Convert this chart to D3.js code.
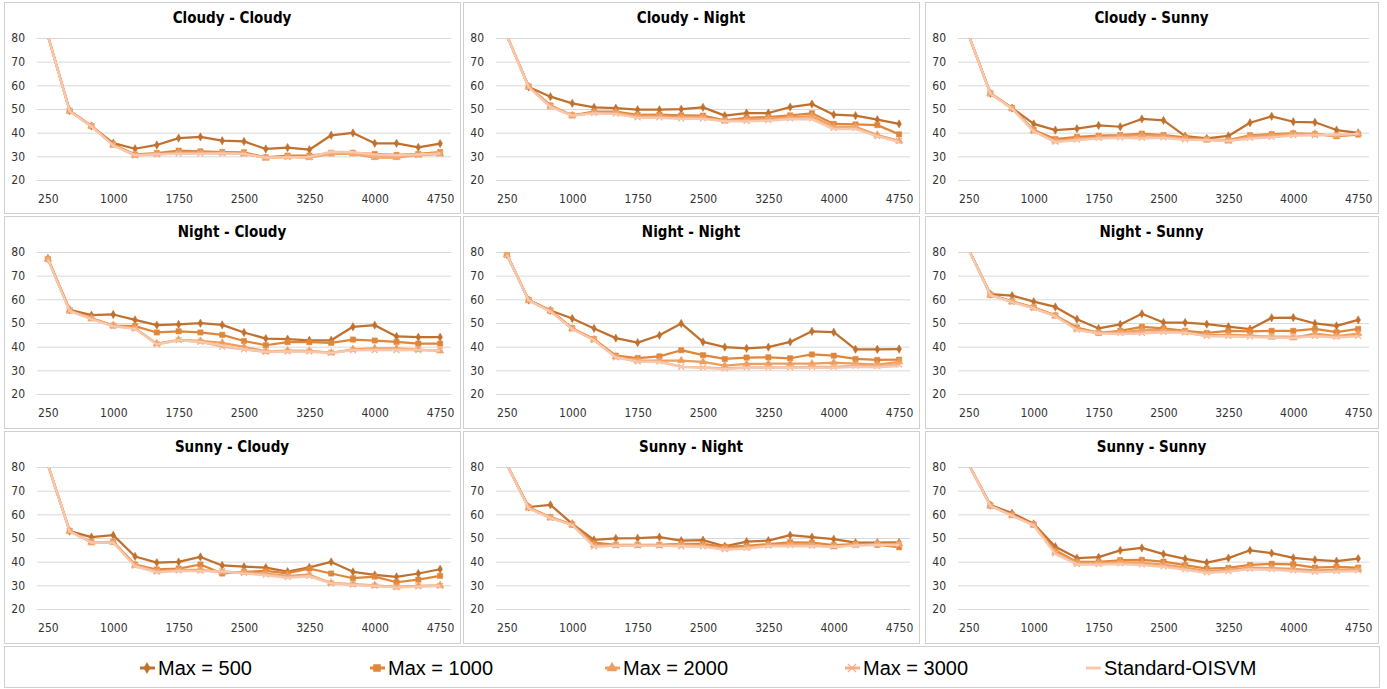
<!DOCTYPE html>
<html>
<head>
<meta charset="utf-8">
<script src="https://cdn.jsdelivr.net/npm/d3@7"></script>
<style>
  body { margin: 0; background: #fff; }
  svg { display: block; }
  .tick text { font-family: "DejaVu Sans Condensed", "DejaVu Sans", sans-serif; font-size: 12px; fill: #333; }
</style>
</head>
<body>
<div id="chart"></div>
<script>
// x categories (max size) and y ticks
const xValues = [250, 500, 750, 1000, 1250, 1500, 1750, 2000, 2250, 2500, 2750, 3000, 3250, 3500, 3750, 4000, 4250, 4500, 4750];
const xTickLabels = [250, 1000, 1750, 2500, 3250, 4000, 4750];
const yTicks = [20, 30, 40, 50, 60, 70, 80];
const seriesNames = ["Max = 500", "Max = 1000", "Max = 2000", "Max = 3000", "Standard-OISVM"];
const panelTitles = ["Cloudy - Cloudy", "Cloudy - Night", "Cloudy - Sunny",
                     "Night - Cloudy", "Night - Night", "Night - Sunny",
                     "Sunny - Cloudy", "Sunny - Night", "Sunny - Sunny"];

// values per panel, one row per series (same order as seriesNames)
const cloudyCloudy = [
  [81, 49.3, 42.8, 35.6, 33.2, 34.8, 37.7, 38.2, 36.6, 36.3, 33.1, 33.7, 32.8, 38.9, 39.9, 35.5, 35.5, 33.8, 35.4],
  [81, 49.2, 42.8, 35.0, 30.8, 31.4, 32.4, 32.1, 31.8, 31.7, 29.6, 30.3, 30.3, 31.4, 31.5, 31.0, 30.6, 31.0, 31.8],
  [81, 49.2, 42.8, 34.8, 30.5, 31.0, 31.6, 31.6, 31.5, 31.1, 29.3, 29.8, 29.5, 31.0, 31.0, 29.5, 29.5, 30.5, 31.0],
  [81, 49.1, 42.7, 34.7, 30.3, 30.8, 31.2, 31.2, 31.3, 31.0, 29.4, 29.7, 29.7, 31.5, 31.3, 30.0, 30.0, 30.5, 31.0],
  [81, 49.0, 42.6, 34.5, 30.5, 30.8, 31.0, 31.0, 31.2, 31.0, 29.5, 29.6, 29.8, 32.0, 31.8, 30.8, 30.5, 30.8, 31.3]
];
const cloudyNight = [
  [81, 59.3, 55.2, 52.4, 50.7, 50.4, 49.7, 49.7, 49.9, 50.7, 47.2, 48.3, 48.3, 50.8, 52.1, 47.6, 47.2, 45.5, 43.7],
  [81, 59.5, 51.5, 47.3, 48.9, 48.9, 47.5, 47.6, 47.3, 47.2, 45.2, 46.3, 46.6, 47.3, 48.2, 43.7, 43.5, 43.2, 39.3],
  [81, 59.4, 51.2, 47.3, 48.5, 48.5, 47.0, 47.0, 46.5, 46.5, 45.0, 45.5, 46.0, 46.5, 47.0, 42.5, 42.5, 39.0, 36.5],
  [81, 59.3, 51.0, 47.2, 48.3, 48.0, 46.5, 46.5, 46.0, 46.0, 45.0, 45.0, 45.3, 46.0, 46.0, 42.0, 42.0, 38.5, 36.5],
  [81, 59.2, 50.8, 47.2, 48.2, 47.8, 46.3, 46.3, 45.8, 45.8, 44.8, 44.8, 45.0, 45.7, 45.6, 41.5, 41.5, 38.5, 36.0]
];
const cloudySunny = [
  [81, 56.6, 50.4, 43.7, 41.1, 41.7, 43.1, 42.5, 45.8, 45.2, 38.5, 37.6, 38.6, 44.2, 46.9, 44.6, 44.4, 41.1, 39.9],
  [81, 56.6, 50.4, 41.1, 37.3, 38.2, 38.7, 39.0, 39.6, 39.0, 38.0, 37.2, 36.9, 38.9, 39.4, 39.7, 39.4, 38.5, 39.2],
  [81, 56.5, 50.3, 40.8, 36.5, 37.5, 38.0, 38.5, 39.0, 38.5, 37.5, 37.0, 36.5, 38.5, 39.0, 39.5, 39.5, 38.5, 39.5],
  [81, 56.5, 50.2, 40.6, 36.2, 37.0, 37.8, 38.0, 37.8, 38.0, 37.2, 37.0, 36.5, 37.8, 38.2, 39.0, 39.0, 39.0, 39.5],
  [81, 56.4, 50.1, 40.5, 36.0, 36.8, 37.5, 37.8, 37.5, 37.8, 37.0, 36.8, 36.5, 37.5, 38.0, 38.8, 39.0, 39.2, 39.5]
];
const nightCloudy = [
  [77.3, 55.6, 53.3, 53.6, 51.3, 49.1, 49.4, 49.9, 49.2, 46.0, 43.4, 43.2, 42.7, 42.7, 48.4, 49.1, 44.3, 44.0, 44.0],
  [77.0, 55.3, 52.0, 48.9, 48.7, 46.0, 46.5, 46.0, 45.0, 42.4, 40.6, 41.9, 41.9, 41.6, 43.0, 42.6, 42.0, 41.3, 41.3],
  [77.0, 55.3, 52.0, 49.0, 47.8, 41.3, 42.9, 42.4, 41.6, 39.9, 38.0, 38.3, 38.2, 37.4, 38.9, 39.3, 39.3, 38.8, 38.2],
  [77.0, 55.2, 51.8, 48.8, 47.6, 41.0, 42.7, 42.0, 40.0, 38.8, 37.8, 38.0, 38.0, 37.5, 38.5, 38.5, 38.5, 38.5, 38.5],
  [76.8, 55.0, 51.6, 48.6, 47.5, 41.0, 42.8, 42.0, 40.5, 39.0, 37.8, 38.0, 37.8, 37.3, 38.5, 38.6, 38.8, 38.6, 38.3]
];
const nightNight = [
  [78.9, 59.7, 55.3, 51.9, 47.7, 43.6, 41.7, 44.8, 49.8, 42.0, 39.8, 39.3, 39.8, 42.0, 46.5, 46.1, 38.9, 38.9, 39.0],
  [79.0, 59.7, 55.3, 47.8, 43.2, 36.2, 35.2, 35.9, 38.5, 36.4, 34.8, 35.4, 35.5, 35.1, 36.7, 36.2, 34.8, 34.4, 34.5],
  [78.9, 59.6, 55.2, 47.6, 43.0, 35.7, 34.1, 34.1, 34.1, 33.6, 32.0, 32.7, 32.8, 32.8, 32.8, 33.3, 32.8, 32.4, 33.6],
  [78.8, 59.6, 55.0, 47.5, 42.8, 35.5, 33.8, 33.8, 31.5, 31.2, 30.8, 31.2, 31.2, 31.2, 31.5, 31.5, 32.0, 31.8, 32.5],
  [78.8, 59.5, 54.8, 47.4, 42.7, 35.5, 33.7, 33.5, 31.5, 31.0, 30.5, 31.0, 31.0, 31.0, 31.0, 31.0, 31.5, 31.3, 31.8]
];
const nightSunny = [
  [81, 62.2, 61.6, 59.0, 56.8, 51.6, 47.7, 49.4, 53.9, 50.2, 50.2, 49.5, 48.5, 47.4, 52.2, 52.3, 49.8, 48.8, 51.3],
  [81, 62.0, 59.2, 56.6, 53.2, 48.1, 45.8, 46.7, 48.4, 47.7, 46.7, 45.8, 46.7, 46.5, 46.7, 46.7, 47.5, 46.1, 47.5],
  [81, 61.8, 59.0, 56.4, 53.0, 47.5, 45.8, 46.0, 47.0, 47.0, 46.2, 45.0, 45.0, 44.8, 44.0, 43.7, 45.5, 44.5, 45.5],
  [81, 61.8, 58.9, 56.3, 52.9, 47.2, 45.8, 45.8, 45.8, 46.2, 46.0, 44.5, 44.5, 44.3, 44.3, 44.2, 44.5, 44.2, 44.5],
  [81, 61.7, 58.8, 56.2, 52.8, 47.0, 45.5, 45.3, 45.5, 46.0, 45.8, 44.5, 44.3, 44.0, 43.8, 43.6, 44.5, 43.8, 44.3]
];
const sunnyCloudy = [
  [81, 52.9, 50.4, 51.2, 42.2, 39.6, 39.9, 42.0, 38.4, 37.9, 37.5, 35.8, 37.6, 39.9, 35.7, 34.4, 33.6, 35.0, 36.8],
  [81, 53.0, 48.2, 48.4, 38.8, 36.7, 37.1, 38.8, 35.0, 35.7, 36.1, 35.1, 37.1, 35.0, 33.0, 33.7, 31.3, 32.4, 34.0],
  [81, 52.9, 48.2, 48.3, 38.5, 36.0, 36.5, 36.5, 35.5, 35.5, 35.0, 34.0, 34.5, 31.0, 30.5, 30.0, 29.3, 29.8, 30.0],
  [81, 52.8, 48.1, 48.2, 38.3, 35.8, 36.3, 36.2, 36.0, 35.2, 34.5, 33.5, 34.0, 30.8, 30.3, 29.8, 29.2, 29.6, 29.8],
  [81, 52.7, 48.0, 48.0, 38.0, 35.5, 36.0, 36.0, 35.8, 35.0, 34.2, 33.2, 33.8, 30.8, 30.2, 29.8, 29.0, 29.5, 29.8]
];
const sunnyNight = [
  [81, 63.1, 64.0, 56.0, 49.2, 49.8, 49.9, 50.4, 48.9, 49.1, 46.5, 48.5, 48.9, 51.2, 50.4, 49.5, 48.0, 48.0, 48.1],
  [81, 63.0, 58.8, 55.7, 48.0, 47.1, 47.1, 47.1, 47.5, 47.5, 46.3, 46.7, 47.4, 48.2, 48.0, 47.0, 47.4, 47.1, 46.1],
  [81, 62.8, 58.6, 55.6, 47.0, 47.0, 47.0, 47.0, 47.3, 46.8, 45.5, 46.0, 47.0, 47.3, 47.0, 46.3, 47.0, 47.5, 47.5],
  [81, 62.6, 58.5, 55.5, 46.5, 46.8, 46.8, 46.8, 46.5, 46.5, 45.3, 45.8, 46.8, 47.0, 46.8, 46.5, 47.0, 47.2, 47.3],
  [81, 62.5, 58.4, 55.4, 46.3, 46.7, 46.8, 46.7, 46.7, 46.3, 45.0, 45.5, 46.5, 46.5, 46.5, 46.3, 46.8, 47.0, 47.0]
];
const sunnySunny = [
  [81, 63.9, 60.5, 56.0, 46.3, 41.5, 41.9, 44.8, 45.8, 43.2, 41.2, 39.6, 41.5, 44.8, 43.6, 41.6, 40.8, 40.2, 41.3],
  [81, 63.8, 59.7, 55.7, 44.8, 39.9, 39.9, 40.6, 40.8, 40.0, 38.5, 37.1, 37.4, 38.6, 39.1, 38.9, 37.5, 37.8, 37.5],
  [81, 63.6, 59.6, 55.5, 44.0, 39.5, 39.5, 39.8, 39.5, 38.8, 37.5, 36.0, 36.5, 37.5, 37.3, 37.0, 36.3, 36.5, 36.8],
  [81, 63.5, 59.5, 55.4, 43.5, 39.0, 39.0, 39.3, 38.8, 38.0, 36.8, 35.5, 36.0, 37.0, 36.8, 36.3, 35.7, 36.0, 36.3],
  [81, 63.5, 59.4, 55.3, 43.2, 38.8, 38.8, 39.0, 38.5, 37.8, 36.5, 35.3, 35.8, 36.8, 36.5, 36.0, 35.5, 35.8, 36.0]
];
const panelData = [cloudyCloudy, cloudyNight, cloudySunny, nightCloudy, nightNight, nightSunny, sunnyCloudy, sunnyNight, sunnySunny];

// look of each series
const colors = ["#C0712F", "#E0863A", "#EE9E5C", "#F4AF86", "#F8C8AE"];
const symbols = [d3.symbolDiamond, d3.symbolSquare, d3.symbolTriangle, d3.symbolX, null];
const symbolSizes = [20, 28, 24, 24, 0];

// layout
const svgWidth = 1387, svgHeight = 689;
const cols = [{ x: 4, w: 456 }, { x: 463, w: 456 }, { x: 925, w: 453 }];
const rows = [{ y: 2, h: 211 }, { y: 216, h: 212 }, { y: 431, h: 212 }];
const plotMargin = { left: 33, right: 9, top: 36, bottom: 33 };

const svg = d3.select("#chart").append("svg")
  .attr("width", svgWidth)
  .attr("height", svgHeight);

panelData.forEach((series, i) => {
  const col = cols[i % 3], row = rows[Math.floor(i / 3)];
  const g = svg.append("g").attr("transform", `translate(${col.x},${row.y})`);

  g.append("rect")
    .attr("x", 0.5).attr("y", 0.5)
    .attr("width", col.w).attr("height", row.h)
    .attr("fill", "#fff")
    .attr("stroke", "#d0d0d0");

  const left = plotMargin.left, right = col.w - plotMargin.right;
  const top = plotMargin.top, bottom = plotMargin.top + 142;

  const x = d3.scalePoint().domain(xValues).range([left, right]).padding(0.5);
  const y = d3.scaleLinear().domain([20, 80]).range([bottom, top]);

  // title
  g.append("text")
    .attr("x", col.w / 2).attr("y", 21)
    .attr("text-anchor", "middle")
    .style("font-family", "'DejaVu Sans Condensed', 'DejaVu Sans', sans-serif")
    .style("font-size", "15px")
    .style("font-weight", "bold")
    .attr("fill", "#000")
    .text(panelTitles[i]);

  // y gridlines + labels
  const yAxis = g.append("g")
    .attr("transform", `translate(${left},0)`)
    .call(d3.axisLeft(y).tickValues(yTicks).tickSize(-(right - left)).tickPadding(12));
  yAxis.select(".domain").remove();
  yAxis.selectAll(".tick line").attr("stroke", "#d9d9d9");

  // x labels
  const xAxis = g.append("g")
    .attr("transform", `translate(0,${bottom})`)
    .call(d3.axisBottom(x).tickValues(xTickLabels).tickSize(0).tickPadding(14));
  xAxis.select(".domain").remove();

  // clip so values above 80 are cut off
  const clipId = "clip" + i;
  g.append("clipPath").attr("id", clipId)
    .append("rect")
    .attr("x", left).attr("y", top)
    .attr("width", right - left).attr("height", bottom - top + 10);

  const line = d3.line()
    .x((d, j) => x(xValues[j]))
    .y(d => y(d));

  const plot = g.append("g").attr("clip-path", `url(#${clipId})`);

  series.forEach((vals, s) => {
    plot.append("path")
      .datum(vals)
      .attr("fill", "none")
      .attr("stroke", colors[s])
      .attr("stroke-width", 2.25)
      .attr("stroke-linejoin", "round")
      .attr("d", line);

    if (symbols[s]) {
      plot.selectAll(null)
        .data(vals.map((v, j) => ({ v, j })).filter(d => d.v <= 80))
        .join("path")
        .attr("transform", d => `translate(${x(xValues[d.j])},${y(d.v)})`)
        .attr("d", d3.symbol().type(symbols[s]).size(symbolSizes[s]))
        .attr("fill", symbols[s] === d3.symbolX ? "none" : colors[s])
        .attr("stroke", colors[s])
        .attr("stroke-width", symbols[s] === d3.symbolX ? 1.2 : 0.5);
    }
  });
});

// legend
const legend = svg.append("g").attr("transform", "translate(4,646)");
legend.append("rect")
  .attr("x", 0.5).attr("y", 0.5)
  .attr("width", 1375).attr("height", 41)
  .attr("fill", "#fff")
  .attr("stroke", "#d0d0d0");

const legendX = [143, 373, 608, 848, 1089];
seriesNames.forEach((name, s) => {
  const item = legend.append("g").attr("transform", `translate(${legendX[s]},22)`);
  item.append("line")
    .attr("x1", -7).attr("x2", 8)
    .attr("stroke", colors[s])
    .attr("stroke-width", 3);
  if (symbols[s]) {
    item.append("path")
      .attr("d", d3.symbol().type(symbols[s]).size(symbolSizes[s] * 1.8))
      .attr("fill", symbols[s] === d3.symbolX ? "none" : colors[s])
      .attr("stroke", colors[s])
      .attr("stroke-width", symbols[s] === d3.symbolX ? 1.2 : 0.5);
  }
  item.append("text")
    .attr("x", 11).attr("y", 7)
    .style("font-family", "'Liberation Sans', Arial, sans-serif")
    .style("font-size", "20px")
    .attr("fill", "#000")
    .text(name);
});
</script>
</body>
</html>
